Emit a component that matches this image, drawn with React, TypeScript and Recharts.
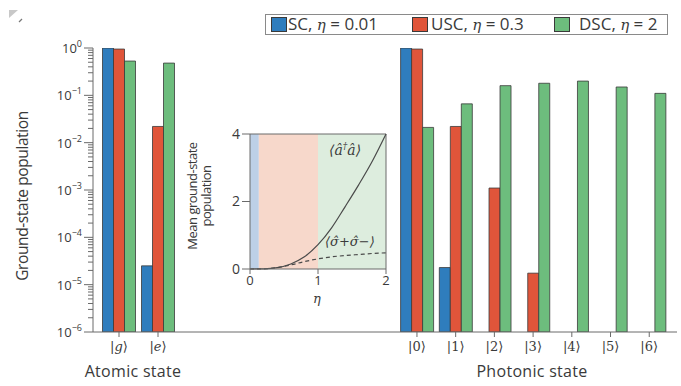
import {
  BarChart,
  Bar,
  XAxis,
  YAxis,
  ComposedChart,
  Line,
  ReferenceArea,
  ReferenceLine,
} from 'recharts';

// atomic states
const ATOMIC_STATES = ['g', 'e'];
const SC_ATOMIC = [1.0, 2.5e-5];
const USC_ATOMIC = [0.95, 0.022];
const DSC_ATOMIC = [0.53, 0.48];

// photonic states
const PHOTON_STATES = ['0', '1', '2', '3', '4', '5', '6'];
const SC_PHOTON = [1.0, 2.3e-5, null, null, null, null, null];
const USC_PHOTON = [0.95, 0.022, 1.1e-3, 1.75e-5, null, null, null];
const DSC_PHOTON = [0.021, 0.066, 0.16, 0.18, 0.2, 0.15, 0.11];

// log axis ticks
const MAJOR_EXPONENTS = [-6, -5, -4, -3, -2, -1, 0];
const MINOR_STEPS = [2, 3, 4, 5, 6, 7, 8, 9];

// inset: mean ground-state population vs coupling
const ETA = [0, 0.2, 0.4, 0.6, 0.8, 1.0, 1.2, 1.4, 1.6, 1.8, 2.0];
const PHOTON_MEAN = [0, 0.005, 0.04, 0.15, 0.36, 0.72, 1.22, 1.85, 2.5, 3.2, 4.0];
const SIGMA_MEAN = [0, 0.005, 0.04, 0.12, 0.22, 0.3, 0.36, 0.4, 0.43, 0.46, 0.48];
const REGIME_BOUNDS = [0, 0.13, 1, 2];

const BLUE = '#2f7dbd';
const RED = '#e0553a';
const GREEN = '#6dbd7d';
const EDGE = '#3a3a3a';
const AXIS = '#6a6a6a';
const TEXT = '#3a3a3a';
const REGIME_FILLS = ['#bdd0e7', '#f7d8cb', '#ddedde'];
const FONT = "'Open Sans', 'Noto Sans', sans-serif";
const MATH = "'DejaVu Serif', serif";

const Y_TICKS = MAJOR_EXPONENTS.flatMap((e) =>
  e === 0 ? [1] : [Math.pow(10, e), ...MINOR_STEPS.map((m) => m * Math.pow(10, e))]
);

const atomicData = ATOMIC_STATES.map((s, i) => ({
  state: s,
  sc: SC_ATOMIC[i],
  usc: USC_ATOMIC[i],
  dsc: DSC_ATOMIC[i],
}));

const photonData = PHOTON_STATES.map((s, i) => ({
  state: s,
  sc: SC_PHOTON[i],
  usc: USC_PHOTON[i],
  dsc: DSC_PHOTON[i],
}));

const insetData = ETA.map((eta, i) => ({
  eta,
  photon: PHOTON_MEAN[i],
  sigma: SIGMA_MEAN[i],
}));

// eslint-disable-next-line @typescript-eslint/no-explicit-any
const LogTick = (props: any) => {
  const { x, y, payload } = props;
  const exp = Math.log10(payload.value);
  const major = Math.abs(exp - Math.round(exp)) < 1e-6;
  const e = Math.round(exp);
  return (
    <g>
      <line x1={x - (major ? 9 : 5)} x2={x} y1={y} y2={y} stroke={AXIS} strokeWidth={1} />
      {major && (
        <text x={x - 11} y={y} dy={5} textAnchor="end" fill={TEXT} fontFamily={FONT} fontSize={13}>
          10
          <tspan dy={-6} fontSize={9}>
            {e === 0 ? '0' : `\u2212${-e}`}
          </tspan>
        </text>
      )}
    </g>
  );
};

// eslint-disable-next-line @typescript-eslint/no-explicit-any
const KetTick = (props: any) => {
  const { x, y, payload } = props;
  const isLetter = /[a-z]/.test(payload.value);
  return (
    <text x={x} y={y} dy={12} textAnchor="middle" fill={TEXT} fontSize={13} fontFamily={MATH}>
      |
      <tspan fontStyle={isLetter ? 'italic' : 'normal'}>{payload.value}</tspan>
      {'\u27E9'}
    </text>
  );
};

const bars = [
  <Bar key="sc" dataKey="sc" fill={BLUE} stroke={EDGE} strokeWidth={0.8} barSize={11} isAnimationActive={false} />,
  <Bar key="usc" dataKey="usc" fill={RED} stroke={EDGE} strokeWidth={0.8} barSize={11} isAnimationActive={false} />,
  <Bar key="dsc" dataKey="dsc" fill={GREEN} stroke={EDGE} strokeWidth={0.8} barSize={11} isAnimationActive={false} />,
];

const legendItems = [
  { color: BLUE, name: 'SC', eta: '0.01', box: 5, text: 22 },
  { color: RED, name: 'USC', eta: '0.3', box: 146, text: 165 },
  { color: GREEN, name: 'DSC', eta: '2', box: 288, text: 313 },
];

export default function App() {
  return (
    <div
      style={{
        position: 'absolute',
        left: 0,
        top: 0,
        width: 681,
        height: 386,
        background: '#fff',
        fontFamily: FONT,
        color: TEXT,
        overflow: 'hidden',
      }}
    >
      <svg style={{ position: 'absolute', left: 0, top: 0 }} width={30} height={30}>
        <polygon points="9,10 18,10 9,18" fill="#c8c8c8" />
        <line x1={19} y1={22} x2={22} y2={19} stroke="#777" strokeWidth={1.2} />
      </svg>

      {/* atomic state panel, owns the shared log axis */}
      <div style={{ position: 'absolute', left: 0, top: 0 }}>
        <BarChart width={400} height={386} data={atomicData} barGap={0} margin={{ top: 48, right: 5, bottom: 0, left: 0 }}>
          <YAxis
            type="number"
            scale="log"
            domain={[1e-6, 1]}
            allowDataOverflow
            ticks={Y_TICKS}
            interval={0}
            tick={<LogTick />}
            tickLine={false}
            tickSize={0}
            tickMargin={0}
            width={93}
            axisLine={{ stroke: AXIS }}
          />
          <XAxis
            dataKey="state"
            height={54}
            padding={{ left: 6.5, right: 217.5 }}
            tick={<KetTick />}
            tickSize={5}
            tickLine={{ stroke: AXIS }}
            axisLine={{ stroke: AXIS }}
            interval={0}
          />
          {bars}
        </BarChart>
      </div>

      {/* photonic state panel */}
      <div style={{ position: 'absolute', left: 380, top: 0 }}>
        <BarChart width={301} height={386} data={photonData} barGap={0} margin={{ top: 48, right: 4, bottom: 0, left: 15 }}>
          <YAxis type="number" scale="log" domain={[1e-6, 1]} allowDataOverflow hide />
          <XAxis
            dataKey="state"
            height={54}
            padding={{ left: 2.6, right: 8.4 }}
            tick={<KetTick />}
            tickSize={5}
            tickLine={{ stroke: AXIS }}
            axisLine={{ stroke: AXIS }}
            interval={0}
          />
          {bars}
        </BarChart>
      </div>

      {/* inset */}
      <div style={{ position: 'absolute', left: 170, top: 110 }}>
        <ComposedChart width={230} height={200} data={insetData} margin={{ top: 24, right: 14, bottom: 11, left: 50 }}>
          {REGIME_FILLS.map((fill, i) => (
            <ReferenceArea
              key={i}
              x1={REGIME_BOUNDS[i]}
              x2={REGIME_BOUNDS[i + 1]}
              y1={0}
              y2={4}
              fill={fill}
              fillOpacity={1}
              stroke="none"
            />
          ))}
          <XAxis
            dataKey="eta"
            type="number"
            domain={[0, 2]}
            ticks={[0, 1, 2]}
            height={30}
            tickSize={5}
            tickMargin={2}
            tick={{ fill: TEXT, fontSize: 13, fontFamily: FONT }}
            tickLine={{ stroke: AXIS }}
            axisLine={{ stroke: AXIS }}
          />
          <YAxis
            type="number"
            domain={[0, 4]}
            ticks={[0, 2, 4]}
            width={30}
            tickSize={8}
            tick={{ fill: TEXT, fontSize: 14, fontFamily: FONT }}
            tickLine={{ stroke: AXIS }}
            axisLine={{ stroke: AXIS }}
          />
          <ReferenceLine y={4} stroke={AXIS} />
          <ReferenceLine x={2} stroke={AXIS} />
          <Line
            type="monotone"
            dataKey="photon"
            stroke="#4a4a4a"
            strokeWidth={1.2}
            dot={false}
            isAnimationActive={false}
          />
          <Line
            type="monotone"
            dataKey="sigma"
            stroke="#4a4a4a"
            strokeWidth={1.2}
            strokeDasharray="4 3"
            dot={false}
            isAnimationActive={false}
          />
        </ComposedChart>
      </div>

      {/* inset annotations */}
      <div style={{ position: 'absolute', left: 329, top: 142, fontFamily: MATH, fontStyle: 'italic', fontSize: 14, whiteSpace: 'nowrap' }}>
        {'\u27E8'}â<sup style={{ fontSize: 9, lineHeight: 0 }}>†</sup>â{'\u27E9'}
      </div>
      <div style={{ position: 'absolute', left: 325, top: 234, fontFamily: MATH, fontStyle: 'italic', fontSize: 13, whiteSpace: 'nowrap' }}>
        {'\u27E8'}σ̂+σ̂−{'\u27E9'}
      </div>
      <div style={{ position: 'absolute', left: 313, top: 292, fontFamily: MATH, fontStyle: 'italic', fontSize: 13, lineHeight: '13px' }}>η</div>
      <div
        style={{
          position: 'absolute',
          left: 199,
          top: 196,
          transform: 'translate(-50%, -50%) rotate(-90deg)',
          textAlign: 'center',
          fontSize: 13,
          lineHeight: '14px',
          letterSpacing: -0.5,
          whiteSpace: 'nowrap',
        }}
      >
        Mean ground-state
        <br />
        population
      </div>

      {/* axis titles */}
      <div
        style={{
          position: 'absolute',
          left: 22,
          top: 196,
          transform: 'translate(-50%, -50%) rotate(-90deg)',
          fontSize: 15.5,
          letterSpacing: -0.4,
          whiteSpace: 'nowrap',
        }}
      >
        Ground-state population
      </div>
      <div style={{ position: 'absolute', left: 133, top: 371, transform: 'translate(-50%, -50%)', fontSize: 16, letterSpacing: 0.3, whiteSpace: 'nowrap' }}>
        Atomic state
      </div>
      <div style={{ position: 'absolute', left: 532, top: 371, transform: 'translate(-50%, -50%)', fontSize: 16, letterSpacing: 0.3, whiteSpace: 'nowrap' }}>
        Photonic state
      </div>

      {/* legend */}
      <div
        style={{
          position: 'absolute',
          left: 265,
          top: 14,
          width: 401,
          height: 19,
          border: '1px solid #8a8a8a',
          background: '#fff',
          fontSize: 17,
        }}
      >
        {legendItems.map((item) => (
          <div key={item.name}>
            <div
              style={{
                position: 'absolute',
                left: item.box,
                top: 2,
                width: 14,
                height: 13,
                background: item.color,
                border: `1px solid ${EDGE}`,
              }}
            />
            <div style={{ position: 'absolute', left: item.text, top: -2, whiteSpace: 'nowrap', lineHeight: '22px' }}>
              {item.name}, <span style={{ fontFamily: MATH, fontStyle: 'italic', fontSize: 15 }}>η</span>
              {' = '}
              {item.eta}
            </div>
          </div>
        ))}
      </div>
    </div>
  );
}
